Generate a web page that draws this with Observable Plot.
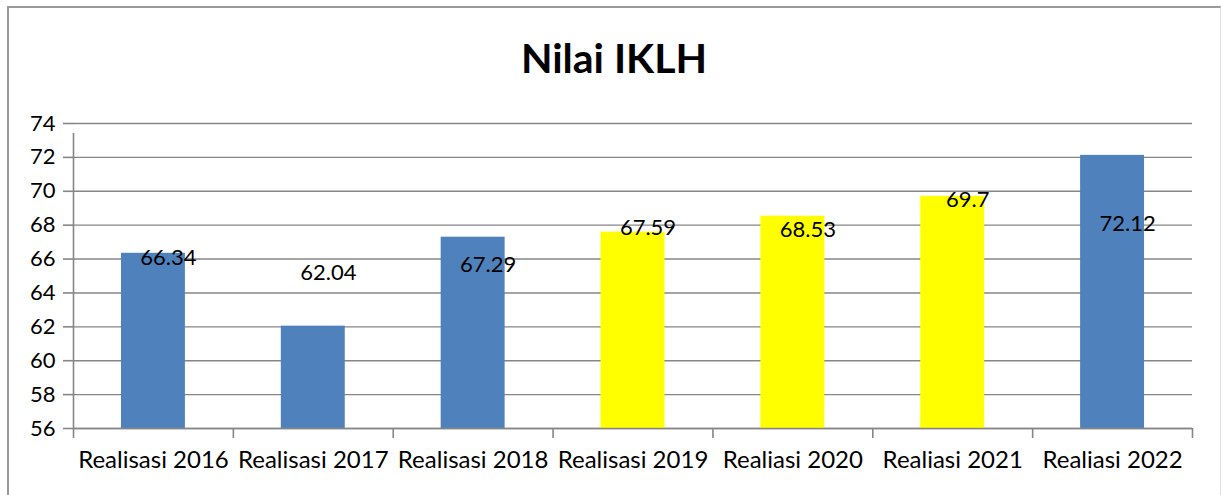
<!DOCTYPE html>
<html>
<head>
<meta charset="utf-8">
<script src="https://cdn.jsdelivr.net/npm/d3@7"></script>
<script src="https://cdn.jsdelivr.net/npm/@observablehq/plot@0.6"></script>
<style>
  html, body { margin: 0; padding: 0; background: #fff; }
  #wrap { position: relative; width: 1222px; height: 495px; overflow: hidden; font-family: Lato, sans-serif; }
  #frame { position: absolute; left: 7px; top: 6px; width: 1211px; height: 600px;
           border-left: 2px solid #9a9a9a; border-top: 2px solid #9a9a9a; border-right: 1px solid #e2e2e2; }
  #title { position: absolute; left: 0; width: 1228px; top: 36px; text-align: center;
           font-family: Lato, sans-serif; font-weight: bold; font-size: 41px; line-height: 44px; color: #000; }
  #chart { position: absolute; left: 0; top: 0; }
  #chart svg { background: transparent; }
</style>
</head>
<body>
<div id="wrap">
  <div id="frame"></div>
  <div id="chart"></div>
  <div id="title">Nilai IKLH</div>
</div>
<script>
const categories = ["Realisasi 2016", "Realisasi 2017", "Realisasi 2018", "Realisasi 2019", "Realiasi 2020", "Realiasi 2021", "Realiasi 2022"];
const values = [66.34, 62.04, 67.29, 67.59, 68.53, 69.7, 72.12];
const labels = ["66.34", "62.04", "67.29", "67.59", "68.53", "69.7", "72.12"];
const highlight = [false, false, false, true, true, true, false];
const labelAt = [66.05, 65.2, 65.63, 67.82, 67.7, 69.47, 68.05];
const yTicks = [56, 58, 60, 62, 64, 66, 68, 70, 72, 74];

const data = categories.map((c, i) => ({cat: c, value: values[i], label: labels[i], hl: highlight[i], ly: labelAt[i]}));

const W = 1222, H = 495, mL = 73, mR = 30, mT = 123, mB = 67;
const step = (W - mL - mR) / categories.length;
const grid = "#868686";

const chart = Plot.plot({
  width: W,
  height: H,
  marginLeft: mL,
  marginRight: mR,
  marginTop: mT,
  marginBottom: mB,
  style: {background: "transparent", fontFamily: "Lato, sans-serif", color: "#000"},
  x: {domain: categories, paddingInner: 0.6, paddingOuter: 0.3, round: false, label: null},
  y: {domain: [56, 74], ticks: yTicks, label: null},
  marks: [
    Plot.ruleY(yTicks, {stroke: grid, strokeWidth: 1.4}),
    Plot.barY(data, {x: "cat", y1: 56, y2: "value", fill: d => d.hl ? "#FFFF00" : "#4F81BD"}),
    Plot.ruleY([56], {stroke: grid, strokeWidth: 1.6}),
    Plot.ruleX(categories, {x: d => d, y1: 56, y2: 56, dx: -step / 2, insetBottom: -10, stroke: grid, strokeWidth: 1.6}),
    Plot.ruleX([categories[categories.length - 1]], {x: d => d, y1: 56, y2: 56, dx: step / 2, insetBottom: -10, stroke: grid, strokeWidth: 1.6}),
    Plot.ruleX([categories[0]], {x: d => d, y1: 56, y2: 74, dx: -step / 2, insetBottom: -10, stroke: grid, strokeWidth: 1.6}),
    Plot.axisY({ticks: yTicks, tickSize: 10, tickPadding: 8, fontSize: 22, stroke: grid, strokeWidth: 1.6, tickFormat: d => String(d), fill: "#000"}),
    Plot.axisX({tickSize: 0, tickPadding: 22, fontSize: 24, fill: "#000"}),
    Plot.text(data, {x: "cat", y: "ly", text: "label", dx: 15, fontSize: 22, fill: "#000", lineAnchor: "middle"})
  ]
});
document.getElementById("chart").appendChild(chart);
</script>
</body>
</html>
